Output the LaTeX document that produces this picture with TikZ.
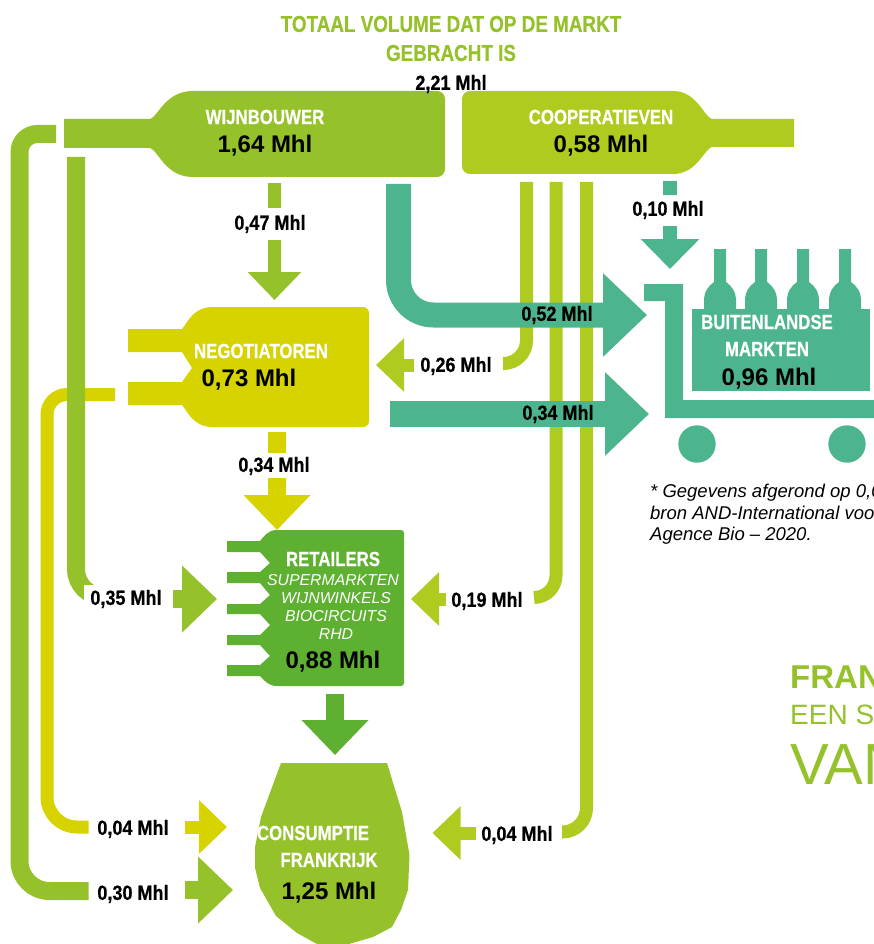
\documentclass[tikz,border=0pt]{standalone}
\usepackage{fontspec}
\setmainfont{Liberation Sans}
\newfontfamily\narrowfont[FakeStretch=0.82,BoldFeatures={FakeBold=0.5}]{Liberation Sans}
\newfontfamily\widefont[FakeStretch=0.88,BoldFeatures={FakeBold=0.5}]{Liberation Sans}
\usetikzlibrary{arrows.meta}
\definecolor{wijngreen}{HTML}{95C12B}
\definecolor{coopgreen}{HTML}{AFCB1F}
\definecolor{negyellow}{HTML}{D6D300}
\definecolor{retailgreen}{HTML}{5EB031}
\definecolor{exportteal}{HTML}{4DB58E}
\newcommand{\sizept}[1]{\fontsize{#1}{#1}\selectfont}

\begin{document}
\begin{tikzpicture}[x=1pt,y=-1pt,
every node/.style={inner sep=0pt,text=black},
flow/.style={line width=#1},
smallhead/.style={-{Triangle[length=28pt,width=52pt]}},
midhead/.style={-{Triangle[length=35pt,width=65pt]}},
bighead/.style={-{Triangle[length=44pt,width=81pt]}},
amount/.style={font=\widefont\bfseries\sizept{20.5},yshift=-2pt},
title/.style={font=\narrowfont\bfseries\sizept{20.5},text=white},
volume/.style={font=\bfseries\sizept{24},yshift=-2pt},
kind/.style={font=\itshape\sizept{15.8},text=white},
notetext/.style={anchor=base west,font=\itshape\sizept{18.5}}]
\useasboundingbox (0,0) rectangle (874,944);

%end points of the flows
\foreach \n/\x/\y in {
ca/526.5/182, cb/526.5/363.5, cc/503/363.5,
da/556/182, db/556/597.5, dc/534/597.5,
ea/586.5/182, eb/586.5/832, ec/562/832,
ya/115/394.5, yb/47/394.5, yc/47/827, yd/88.5/827,
oa/56/134, ob/19.5/134, oc/19.5/891, od/88.5/891,
ga/76/157, gb/76/597, gc/104/597,
ta/398.5/184, tb/398.5/315, tc/647/315,
ua/390/414, ub/649/414,
wa/274.5/183, wb/274.5/208, wc/274.5/240, wd/274.5/300,
xa/670/181, xb/670/195, xc/670/226, xd/670/269,
na/277/432, nb/277/453, nc/277/478, nd/277/530,
ra/335/694, rb/335/755,
p1/414/365, p2/376/365,
p3/446/599, p4/411/599,
p5/476/833, p6/432.5/833,
p7/173/599, p8/217/599,
p9/184.5/827, p10/227/827,
p11/184.5/890, p12/233/890}
	\coordinate(\n) at (\x,\y);

%bottles
\fill[wijngreen] (64,119) -- (150,119) .. controls (158,117) and (165,91) .. (193,91) [rounded corners=8] -- (445,91) -- (445,177) [sharp corners] -- (193,177) .. controls (165,177) and (158,150) .. (150,148) -- (64,148) -- cycle;
\fill[coopgreen] (794,119) -- (712,119) .. controls (704,117) and (697,91) .. (673,91) [rounded corners=8] -- (462,91) -- (462,174) [sharp corners] -- (673,174) .. controls (697,174) and (704,149) .. (712,147) -- (794,147) -- cycle;
\fill[negyellow] (128,329) -- (182,329) .. controls (188,322) and (193,307) .. (213,307) [rounded corners=6] -- (369,307) -- (369,427) [sharp corners] -- (213,427) .. controls (193,427) and (188,412) .. (182,405) -- (128,405) -- (128,382) -- (182,382) -- (192,368) -- (182,352) -- (128,352) -- cycle;
\fill[retailgreen] (227,541) -- (260,541) .. controls (264,536) and (268,530) .. (277,530) [rounded corners=3] -- (404,530) -- (404,686) [sharp corners] -- (277,686) .. controls (268,686) and (264,680) .. (260,676) -- (227,676) -- (227,665) -- (260,665) -- (270,656) -- (260,645) -- (227,645) -- (227,635) -- (260,635) -- (270,625) -- (260,614) -- (227,614) -- (227,604) -- (260,604) -- (270,595) -- (260,583) -- (227,583) -- (227,572) -- (260,572) -- (270,563) -- (260,552) -- (227,552) -- cycle;
%glass
\fill[wijngreen] (281,763) -- (387,763) -- (402,812) -- (409.5,855) -- (408,890) -- (401,910) -- (392,927) -- (373,937) -- (349,944) -- (317,944) -- (297,933) -- (276,916) -- (260,888) -- (255,868) -- (255,847) -- (261,817) -- cycle;

%cart with crate
\fill[exportteal] (644,284) -- (683,284) -- (683,400) -- (874,400) -- (874,418) -- (665,418) -- (665,301) -- (644,301) -- cycle;
\fill[exportteal] (692,309) rectangle (870,391);
\foreach \x in {720,761,803,845}{
	\fill[exportteal] (\x-6,249) -- (\x+6,249) -- (\x+6,282) .. controls (\x+12,286) and (\x+16,292) .. (\x+16,301) -- (\x+16,309) -- (\x-16,309) -- (\x-16,301) .. controls (\x-16,292) and (\x-12,286) .. (\x-6,282) -- cycle;
}
\fill[exportteal] (697,444) circle (18.7);
\fill[exportteal] (847,444) circle (18.7);

%pipes
\draw[flow=13,coopgreen,rounded corners=23] (ca) -- (cb) -- (cc);
\draw[flow=13,coopgreen,rounded corners=22] (da) -- (db) -- (dc);
\draw[flow=13,coopgreen,rounded corners=24] (ea) -- (eb) -- (ec);
\draw[flow=13,negyellow,rounded corners=20] (ya) -- (yb) [rounded corners=30] -- (yc) -- (yd);
\draw[flow=18,wijngreen,rounded corners=18] (oa) -- (ob) [rounded corners=30] -- (oc) -- (od);
\draw[flow=18,wijngreen,rounded corners=28] (ga) -- (gb) -- (gc);
\draw[flow=25,exportteal,bighead,rounded corners=35] (ta) -- (tb) -- (tc);
\draw[flow=26,exportteal,bighead] (ua) -- (ub);

%split arrows
\draw[flow=13,wijngreen] (wa) -- (wb);
\draw[flow=13,wijngreen,smallhead] (wc) -- (wd);
\draw[flow=14,exportteal] (xa) -- (xb);
\draw[flow=14,exportteal,-{Triangle[length=30pt,width=57pt]}] (xc) -- (xd);
\draw[flow=18,negyellow] (na) -- (nb);
\draw[flow=18,negyellow,midhead] (nc) -- (nd);
\draw[flow=18,retailgreen,midhead] (ra) -- (rb);

%arrows beside the labels
\draw[flow=13,coopgreen,smallhead] (p1) -- (p2);
\draw[flow=13,coopgreen,smallhead] (p3) -- (p4);
\draw[flow=13,coopgreen,smallhead] (p5) -- (p6);
\draw[flow=18,wijngreen,midhead] (p7) -- (p8);
\draw[flow=13,negyellow,smallhead] (p9) -- (p10);
\draw[flow=18,wijngreen,midhead] (p11) -- (p12);

%title
\node[font=\narrowfont\bfseries\sizept{23},text=wijngreen] (kop1) at (451,24) {TOTAAL VOLUME DAT OP DE MARKT};
\node[font=\narrowfont\bfseries\sizept{23},text=wijngreen] (kop2) at (451,53) {GEBRACHT IS};
\node[amount] (totaal) at (451,82) {2,21 Mhl};

%bottle labels
\node[title] (wijnbouwer) at (265,117) {WIJNBOUWER};
\node[volume] (wijnvol) at (265,144) {1,64 Mhl};
\node[title] (coop) at (601,117) {COOPERATIEVEN};
\node[volume] (coopvol) at (601,144) {0,58 Mhl};
\node[title] (neg) at (261,351) {NEGOTIATOREN};
\node[volume] (negvol) at (249,378) {0,73 Mhl};
\node[title] (retail) at (333,559) {RETAILERS};
\node[kind] (super) at (333,580) {SUPERMARKTEN};
\node[kind] (winkels) at (336,598) {WIJNWINKELS};
\node[kind] (bio) at (336,616) {BIOCIRCUITS};
\node[kind] (rhd) at (336,634) {RHD};
\node[volume] (retailvol) at (333,660) {0,88 Mhl};
\node[title] (cons) at (313,833) {CONSUMPTIE};
\node[title] (frank) at (329,860) {FRANKRIJK};
\node[volume] (consvol) at (329,891) {1,25 Mhl};
\node[title] (markt1) at (767,322) {BUITENLANDSE};
\node[title] (markt2) at (767,349) {MARKTEN};
\node[volume] (marktvol) at (769,377) {0,96 Mhl};

%flow labels
\node[amount] (l047) at (270,222) {0,47 Mhl};
\node[amount] (l010) at (668,208) {0,10 Mhl};
\node[amount] (l052) at (557,313) {0,52 Mhl};
\node[amount] (l026) at (456,364) {0,26 Mhl};
\node[amount] (l034a) at (558,412) {0,34 Mhl};
\node[amount] (l034b) at (274,464) {0,34 Mhl};
\node[amount,fill=white,inner xsep=6pt,minimum height=28pt] (l035) at (126,597) {0,35 Mhl};
\node[amount] (l019) at (487,599) {0,19 Mhl};
\node[amount] (l004a) at (133,827) {0,04 Mhl};
\node[amount] (l030) at (133,892) {0,30 Mhl};
\node[amount] (l004b) at (517,833) {0,04 Mhl};

%note and cut off heading
\node[notetext] (note1) at (650,497) {* Gegevens afgerond op 0,0};
\node[notetext] (note2) at (650,519) {bron AND-International voor};
\node[notetext] (note3) at (650,540) {Agence Bio – 2020.};
\node[anchor=base west,font=\bfseries\sizept{33},text=wijngreen] (fr1) at (790,688) {FRAN};
\node[anchor=base west,font=\sizept{28},text=wijngreen] (fr2) at (790,724) {EEN S};
\node[anchor=base west,font=\sizept{58},text=wijngreen] (fr3) at (790,784) {VAN};
\end{tikzpicture}
\end{document}
